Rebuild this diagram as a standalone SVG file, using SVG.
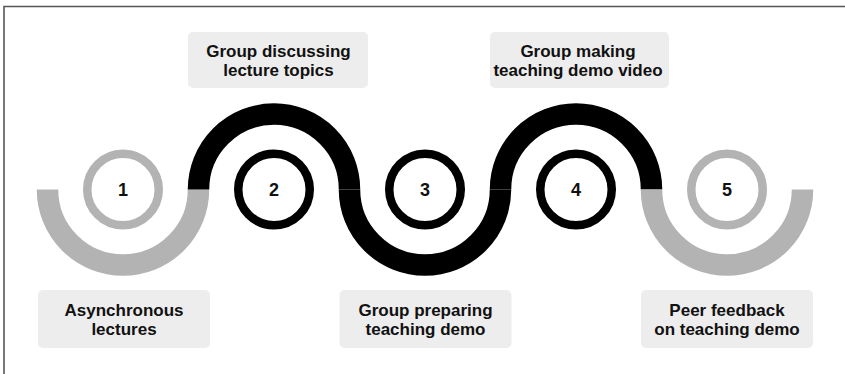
<svg xmlns="http://www.w3.org/2000/svg" width="845" height="374" viewBox="0 0 845 374">
<style>
.box{fill:#ededed;}
.lbl{font-family:"Liberation Sans",Arial,sans-serif;font-weight:bold;font-size:17px;fill:#111;text-anchor:middle;}
.num{font-family:"Liberation Sans",Arial,sans-serif;font-weight:bold;font-size:18px;fill:#111;text-anchor:middle;}
.arc{fill:none;stroke-width:21.5;stroke-linecap:butt;}
.ring{fill:#fff;stroke-width:8.5;}
.g{stroke:#b3b3b3;}
.k{stroke:#000;}
</style>
<rect x="0" y="0" width="845" height="374" fill="#fff"/>
<path d="M4 374 V6.5 H845" fill="none" stroke="#555" stroke-width="1.6"/>
<g id="connectors">
<path class="arc g" d="M47.5 189.5 A75.5 75.5 0 0 0 198.5 189.5"/>
<path class="arc k" d="M198.5 189.5 A75.5 75.5 0 0 1 349.5 189.5"/>
<path class="arc k" d="M349.5 189.5 A75.5 75.5 0 0 0 500.5 189.5"/>
<path class="arc k" d="M500.5 189.5 A75.5 75.5 0 0 1 651.5 189.5"/>
<path class="arc g" d="M651.5 189.5 A75.5 75.5 0 0 0 802.5 189.5"/>
</g>
<g id="step1">
<circle class="ring g" cx="123" cy="189.5" r="35.75"/>
<text class="num" x="123" y="196">1</text>
<rect class="box" x="38" y="290" width="172" height="58" rx="5"/>
<text class="lbl" x="124" y="316">Asynchronous</text>
<text class="lbl" x="124" y="335">lectures</text>
</g>
<g id="step2">
<circle class="ring k" cx="274" cy="189.5" r="35.75"/>
<text class="num" x="274" y="196">2</text>
<rect class="box" x="188" y="32" width="180" height="56" rx="5"/>
<text class="lbl" x="278.5" y="57">Group discussing</text>
<text class="lbl" x="278.5" y="76">lecture topics</text>
</g>
<g id="step3">
<circle class="ring k" cx="425" cy="189.5" r="35.75"/>
<text class="num" x="425" y="196">3</text>
<rect class="box" x="339.5" y="290" width="172" height="58" rx="5"/>
<text class="lbl" x="425.5" y="316">Group preparing</text>
<text class="lbl" x="425.5" y="335">teaching demo</text>
</g>
<g id="step4">
<circle class="ring k" cx="576" cy="189.5" r="35.75"/>
<text class="num" x="576" y="196">4</text>
<rect class="box" x="490" y="32" width="179" height="56" rx="5"/>
<text class="lbl" x="578" y="57">Group making</text>
<text class="lbl" x="578" y="76">teaching demo video</text>
</g>
<g id="step5">
<circle class="ring g" cx="727" cy="189.5" r="35.75"/>
<text class="num" x="727" y="196">5</text>
<rect class="box" x="641" y="290" width="172" height="58" rx="5"/>
<text class="lbl" x="727" y="316">Peer feedback</text>
<text class="lbl" x="727" y="335">on teaching demo</text>
</g>
</svg>
